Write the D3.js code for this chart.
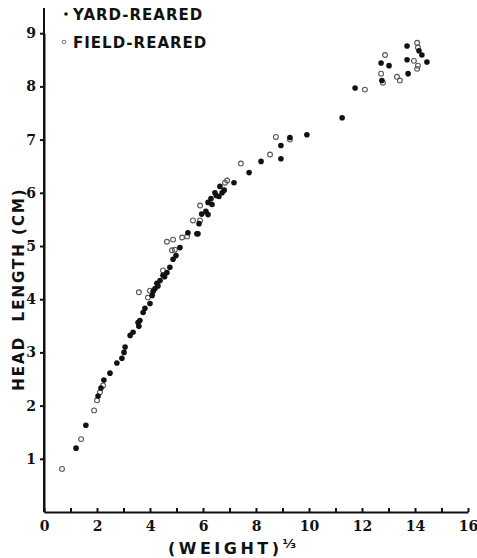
<!DOCTYPE html>
<html>
<head>
<meta charset="utf-8">
<script src="https://cdn.jsdelivr.net/npm/d3@7"></script>
<style>
    body { margin: 0; background: #fff; }
    .axis path, .axis line { stroke: #111; stroke-width: 2; }
    .axis text { font-family: "DejaVu Serif", serif; font-weight: bold; font-size: 14px; fill: #111; }
    .title { font-family: "DejaVu Sans", sans-serif; font-weight: bold; fill: #111; white-space: pre; }
</style>
</head>
<body>
<div id="chart"></div>
<script>
// (weight)^1/3 and head length (cm), yard-reared birds
var yardWeight = [13.70, 14.15, 14.26, 12.72, 13.02, 13.70, 14.45, 13.74, 12.75, 11.74, 11.25,
    9.92, 9.28, 8.94, 8.19, 8.94, 7.74, 7.17, 6.64, 6.72, 6.45, 6.60, 6.30, 6.19, 6.34, 6.11, 6.19,
    5.85, 5.77, 5.43, 5.81, 5.13, 4.98, 4.87, 4.75, 4.64, 4.49, 4.38, 4.26, 4.19, 4.08, 4.00, 3.81,
    3.74, 3.62, 3.55, 3.58, 3.36, 3.25, 3.06, 3.02, 2.94, 2.75, 2.49, 2.26, 2.15, 2.04, 1.58, 1.21,
    4.55, 4.30, 4.12, 6.50, 6.80, 5.95];
var yardHead = [8.76, 8.67, 8.59, 8.44, 8.39, 8.50, 8.46, 8.24, 8.11, 7.97, 7.41,
    7.09, 7.04, 6.89, 6.59, 6.64, 6.38, 6.19, 6.12, 6.00, 6.00, 5.93, 5.89, 5.82, 5.78, 5.65, 5.59,
    5.42, 5.23, 5.25, 5.23, 4.97, 4.82, 4.75, 4.60, 4.50, 4.45, 4.35, 4.30, 4.20, 4.07, 3.92, 3.83,
    3.75, 3.60, 3.56, 3.49, 3.38, 3.32, 3.10, 3.00, 2.89, 2.80, 2.61, 2.48, 2.33, 2.18, 1.63, 1.20,
    4.42, 4.25, 4.15, 5.95, 6.05, 5.60];

// field-reared birds
var fieldWeight = [14.08, 14.11, 12.87, 13.96, 14.11, 14.08, 12.72, 12.79, 13.32, 13.43, 12.11,
    8.75, 9.28, 8.53, 7.43, 6.83, 6.91, 5.89, 5.62, 5.89, 5.40, 4.64, 4.87, 5.21, 4.83, 4.94,
    4.49, 4.00, 3.92, 3.58, 2.11, 2.00, 2.23, 1.89, 1.40, 0.68];
var fieldHead = [8.82, 8.73, 8.59, 8.48, 8.39, 8.33, 8.24, 8.07, 8.18, 8.11, 7.94,
    7.05, 7.00, 6.72, 6.55, 6.19, 6.23, 5.76, 5.48, 5.48, 5.18, 5.08, 5.12, 5.16, 4.92, 4.93,
    4.54, 4.16, 4.03, 4.13, 2.25, 2.10, 2.38, 1.91, 1.37, 0.81];

var xTicks = d3.range(0, 17);
var yTicks = d3.range(1, 10);
var legendLabels = ["YARD-REARED", "FIELD-REARED"];

function init() {
    var w = 477;
    var h = 558;

    var left = 44, right = 468, top = 8, bottom = 512;

    var xScale = d3.scaleLinear()
                   .domain([0, 16])
                   .range([left, right]);

    var yScale = d3.scaleLinear()
                   .domain([0, 9])
                   .range([bottom, bottom - 9 * 53.2]);

    var xAxis = d3.axisBottom(xScale)
                  .tickValues(xTicks)
                  .tickSizeInner(-4)
                  .tickSizeOuter(0)
                  .tickPadding(9)
                  .tickFormat(function(d) { return d % 2 == 0 ? d : ""; });

    var yAxis = d3.axisLeft(yScale)
                  .tickValues(yTicks)
                  .tickSizeInner(4)
                  .tickSizeOuter(0)
                  .tickPadding(4);

    var svg = d3.select("#chart")
                .append("svg")
                .attr("width", w)
                .attr("height", h);

    svg.append("g")
        .attr("class", "axis")
        .attr("transform", "translate(0," + bottom + ")")
        .call(xAxis);

    svg.append("g")
        .attr("class", "axis")
        .attr("transform", "translate(" + left + ",0)")
        .call(yAxis);

    // y axis line runs up past the 9 tick
    svg.append("line")
        .attr("x1", left).attr("x2", left)
        .attr("y1", top).attr("y2", bottom)
        .attr("stroke", "#111").attr("stroke-width", 2);

    // points
    svg.append("g").selectAll("circle")
        .data(fieldWeight)
        .enter()
        .append("circle")
        .attr("cx", function(d) { return xScale(d); })
        .attr("cy", function(d, i) { return yScale(fieldHead[i]); })
        .attr("r", 2.4)
        .attr("fill", "none")
        .attr("stroke", "#555")
        .attr("stroke-width", 1.1);

    svg.append("g").selectAll("circle")
        .data(yardWeight)
        .enter()
        .append("circle")
        .attr("cx", function(d) { return xScale(d); })
        .attr("cy", function(d, i) { return yScale(yardHead[i]); })
        .attr("r", 2.8)
        .attr("fill", "#111");

    // legend
    svg.append("circle").attr("cx", 66).attr("cy", 14).attr("r", 1.8).attr("fill", "#111");
    svg.append("circle").attr("cx", 64).attr("cy", 42).attr("r", 1.8)
        .attr("fill", "none").attr("stroke", "#777").attr("stroke-width", 1);

    svg.selectAll(".legend")
        .data(legendLabels)
        .enter()
        .append("text")
        .attr("class", "title")
        .attr("x", 73)
        .attr("y", function(d, i) { return 20 + i * 28; })
        .attr("font-size", 15)
        .attr("letter-spacing", 1)
        .text(function(d) { return d; });

    // axis titles
    svg.append("text")
        .attr("class", "title")
        .attr("transform", "translate(24,289) rotate(-90)")
        .attr("text-anchor", "middle")
        .attr("font-size", 15)
        .attr("letter-spacing", 2)
        .text("HEAD  LENGTH (CM)");

    var xt = svg.append("text")
        .attr("class", "title")
        .attr("x", 232)
        .attr("y", 554)
        .attr("text-anchor", "middle")
        .attr("font-size", 16)
        .attr("letter-spacing", 3.5);
    xt.append("tspan").text("(WEIGHT)");
    xt.append("tspan").attr("dy", -6).attr("font-size", 13).attr("letter-spacing", 0).text("⅓");
}
window.onload = init;
</script>
</body>
</html>
